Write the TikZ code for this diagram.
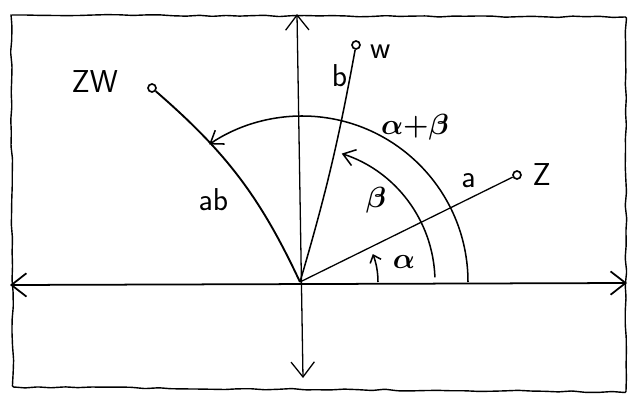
\documentclass[tikz,border=0pt]{standalone}
\usepackage{amsmath}
\usetikzlibrary{arrows.meta, positioning, decorations.pathmorphing}

\begin{document}
\begin{tikzpicture}[x=0.03cm, y=0.03cm,
    frame/.style={draw, line width=1.2pt, rounded corners=1pt, decorate,
                  decoration={random steps, segment length=4mm, amplitude=0.25mm}},
    ax/.style={line width=1.1pt, {Straight Barb[length=4.5mm, width=7mm]}-{Straight Barb[length=4.5mm, width=7mm]}},
    vec/.style={line width=1.1pt},
    thk/.style={line width=1.6pt},
    arc/.style={line width=1.3pt, -{Straight Barb[length=3.5mm, width=5mm]}},
    pt/.style={circle, draw, line width=1.4pt, fill=white, inner sep=0pt, minimum size=0.24cm},
    lab/.style={font=\sffamily\fontsize{27}{31}\selectfont, inner sep=2pt},
    glab/.style={font=\fontsize{27}{31}\selectfont\boldmath, inner sep=2pt}]
  \useasboundingbox (0,0) rectangle (632,-394);
  \pgfmathsetseed{11}
  \draw[frame] (11,-15) -- (626,-17) -- (626,-392) -- (13,-387) -- cycle;
  % axes
  \coordinate (o) at (300,-282);
  \coordinate (xl) at (10,-285);
  \coordinate (xr) at (627,-283);
  \coordinate (yt) at (297,-14);
  \coordinate (yb) at (303,-378);
  \draw[ax, line width=1.5pt] (xl) -- (xr);
  \draw[ax] (yb) -- (yt);
  % the three points
  \node[pt] (z) at (517,-175) {};
  \node[pt] (w) at (356,-45) {};
  \node[pt] (zw) at (152,-88) {};
  \node[lab, right=2.5mm of z] (zl) {Z};
  \node[lab, right=2mm of w, yshift=-2mm] (wl) {w};
  \node[lab, left=8mm of zw, yshift=2mm] (zwl) {ZW};
  \draw[vec] (o) -- node[pos=0.84, above left, lab, yshift=1mm] {a} (z);
  \draw[vec, line width=1.3pt] (o) to[bend right=3] node[pos=0.9, left, lab] {b} (w);
  \draw[thk] (zw) to[bend left=12] node[pos=0.62, left=7mm, lab] {ab} (o);
  % angles
  \draw[arc, -{Straight Barb[length=2mm, width=3.5mm]}] (o) ++(0:78) arc[start angle=0, end angle=21, radius=78];
  \draw[arc] (o) ++(2:135) arc[start angle=2, end angle=72, radius=135];
  \draw[arc] (o) ++(0:168) arc[start angle=0, end angle=124, radius=166];
  \node[glab] (al) at (404,-262) {$\alpha$};
  \node[glab] (bl) at (376,-200) {$\beta$};
  \node[glab] (abl) at (415,-127) {$\alpha{+}\beta$};
\end{tikzpicture}
\end{document}
